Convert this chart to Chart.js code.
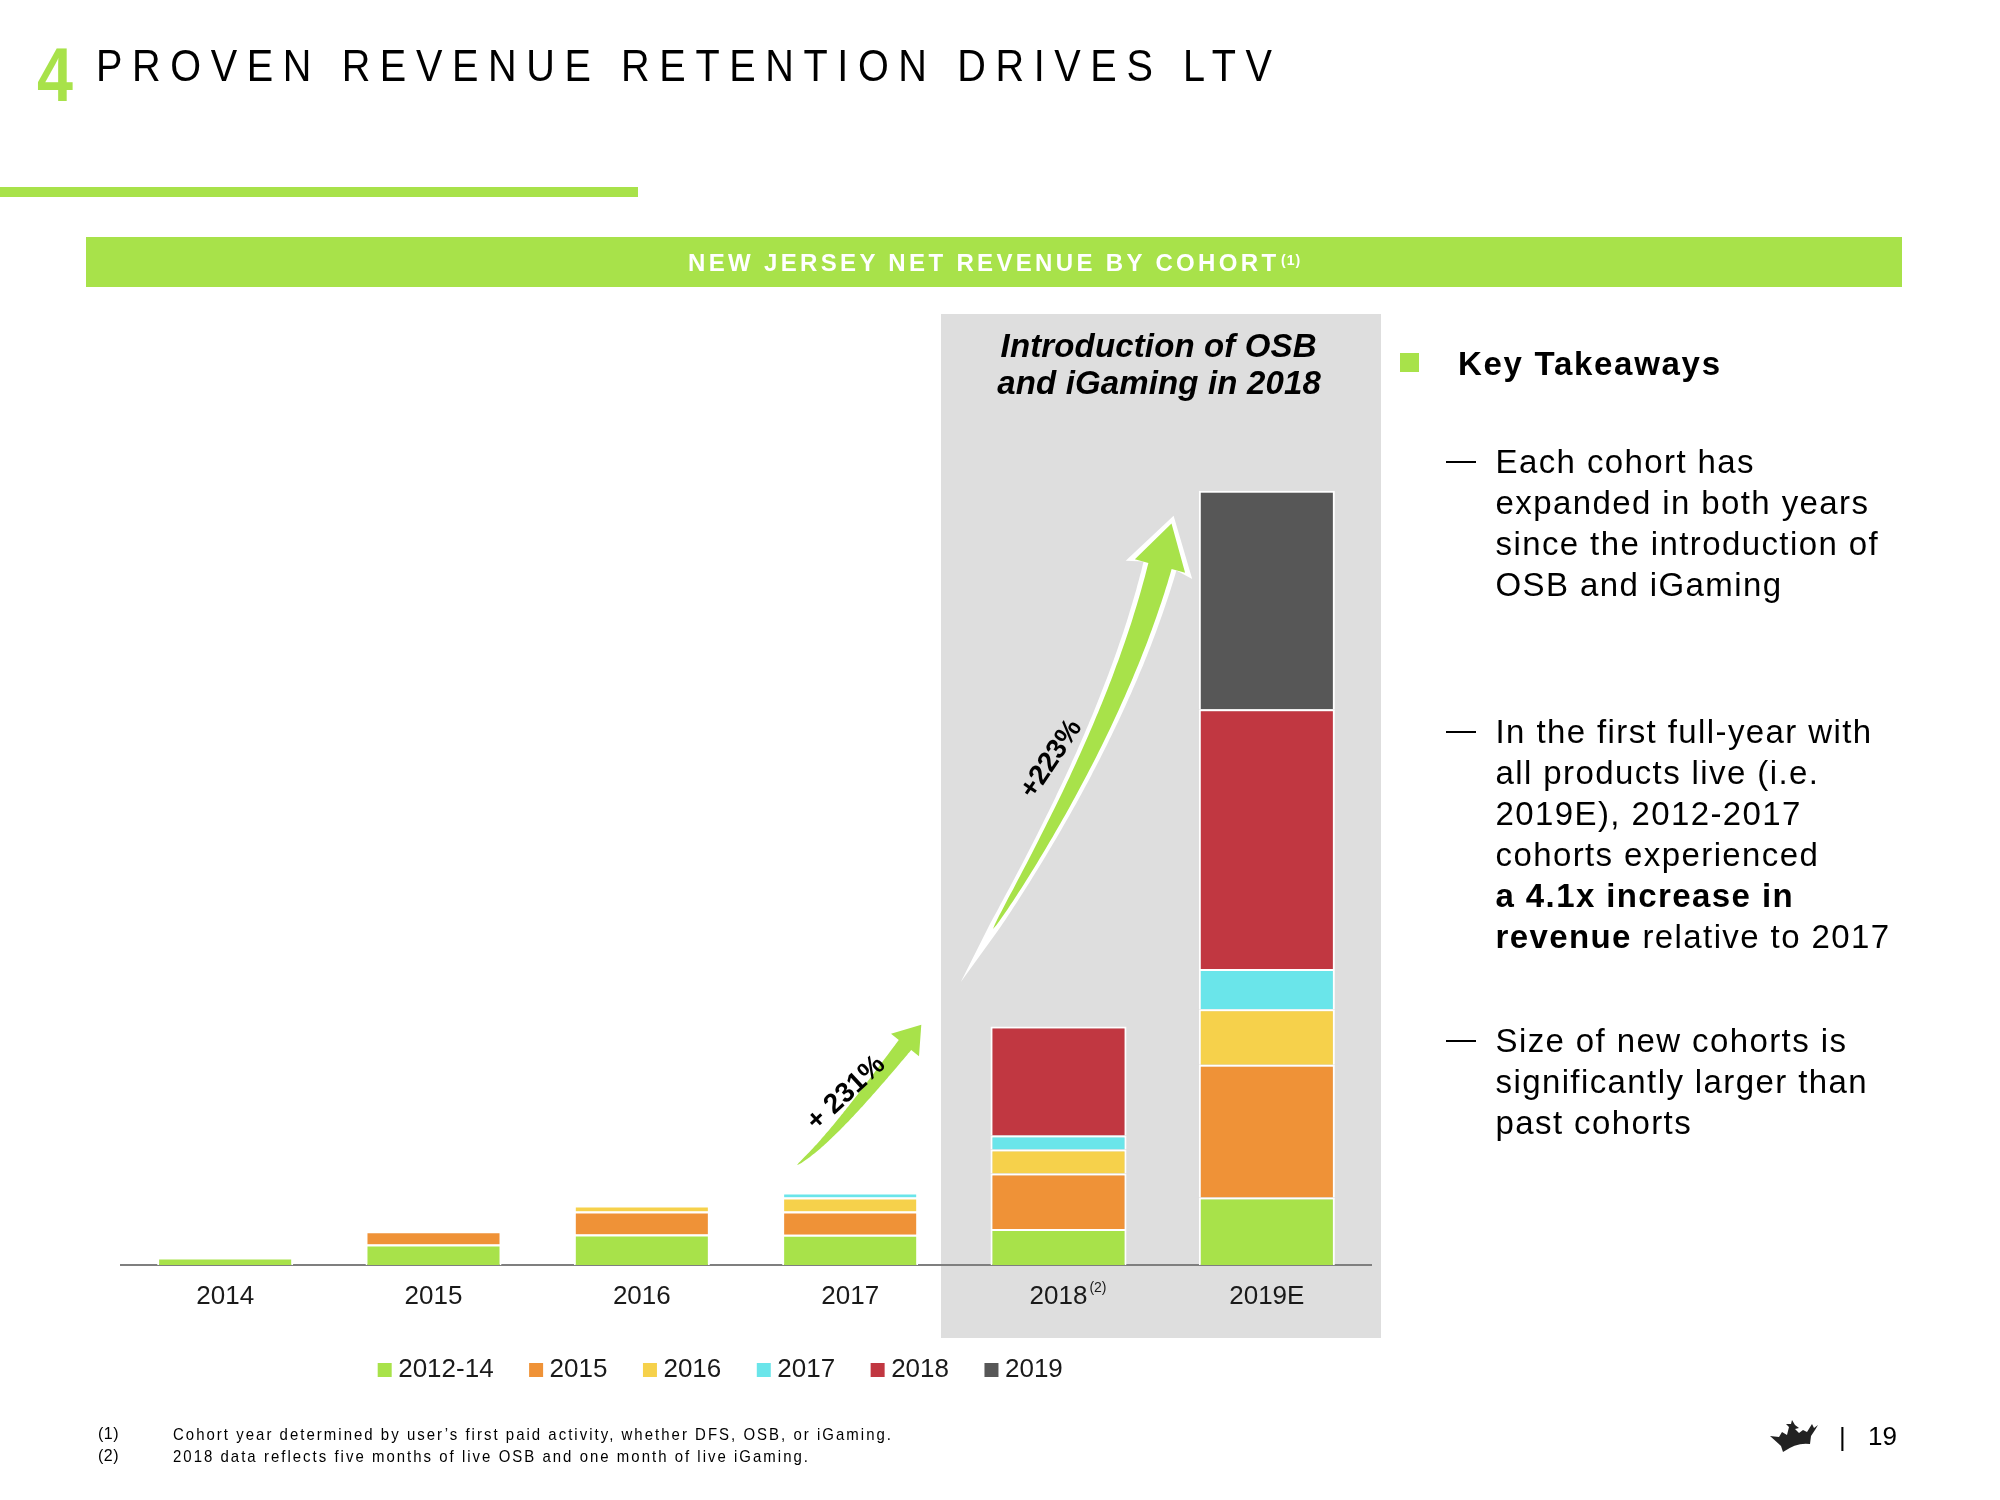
<!DOCTYPE html>
<html><head><meta charset="utf-8">
<script src="https://cdn.jsdelivr.net/npm/chart.js@4.4.1/dist/chart.umd.min.js"></script>
<style>
html,body{margin:0;padding:0;background:#fff;}
body{width:2000px;height:1500px;position:relative;overflow:hidden;font-family:"Liberation Sans",Arial,sans-serif;color:#000;}
.abs{position:absolute;white-space:nowrap;}
</style></head><body>
<div class="abs" style="left:0;top:187px;width:638px;height:10px;background:#a8e24a"></div>
<div class="abs" style="left:86px;top:237px;width:1816px;height:50px;background:#a8e24a"></div>
<div class="abs" style="left:941px;top:314px;width:440px;height:1024px;background:#dedede"></div>
<div class="abs" style="left:1400px;top:353px;width:19px;height:19px;background:#a8e24a"></div>
<canvas id="c" width="1400" height="948" style="position:absolute;left:0;top:445px;width:1400px;height:948px"></canvas>
<svg id="ov" class="abs" style="left:0;top:0" width="2000" height="1500" xmlns="http://www.w3.org/2000/svg"></svg>
<script>
// ---------------- data ----------------
const categories = ['2014', '2015', '2016', '2017', '2018', '2019E'];
const categoryNotes = ['', '', '', '', '(2)', ''];
const seriesNames = ['2012-14', '2015', '2016', '2017', '2018', '2019'];
const cohort2012_14 = [3.8, 10.2, 15.2, 15.1, 18.0, 33.8];
const cohort2015 = [null, 6.7, 11.5, 11.7, 27.8, 66.3];
const cohort2016 = [null, null, 3.0, 7.0, 12.0, 27.8];
const cohort2017 = [null, null, null, 2.5, 7.0, 20.1];
const cohort2018 = [null, null, null, null, 54.5, 129.9];
const cohort2019 = [null, null, null, null, null, 109.2];
const seriesColors = ['#a8e24a', '#ef9237', '#f6d14b', '#6ae5ea', '#c13741', '#575757'];
const growthLabels = ['+ 231%', '+223%'];

const FAM = '"Liberation Sans", Arial, sans-serif';
Chart.defaults.font.family = FAM;

// --------------- text helper ---------------
const mctx = document.createElement('canvas').getContext('2d');
function place(html, o) {
  const el = document.createElement('div');
  el.className = 'abs';
  el.innerHTML = html;
  el.style.fontFamily = FAM;
  el.style.fontSize = o.size + 'px';
  el.style.lineHeight = o.size + 'px';
  el.style.fontWeight = o.bold ? '700' : '400';
  el.style.fontStyle = o.italic ? 'italic' : 'normal';
  el.style.color = o.color || '#000';
  const sx = o.sx || 1;
  let ls = o.ls || 0;
  if (o.w) {
    mctx.font = (o.italic ? 'italic ' : '') + (o.bold ? 'bold ' : '') + o.size + 'px ' + FAM;
    const plain = el.textContent;
    const nat = mctx.measureText(plain).width;
    ls = (o.w / sx - nat) / (plain.length - 1);
  }
  el.style.letterSpacing = ls + 'px';
  document.body.appendChild(el);
  const width = (el.getBoundingClientRect().width - ls) * (o.sx ? 1 : 1);
  let left = o.x;
  if (o.cx !== undefined) left = o.cx - width / 2;
  el.style.left = left + 'px';
  el.style.top = (o.base - 0.8465 * o.size) + 'px';
  if (o.sx) { el.style.transform = 'scaleX(' + o.sx + ')'; el.style.transformOrigin = 'left top'; }
  return el;
}

// header
place('4', {x: 37, base: 101.5, size: 76, bold: true, color: '#a8e24a', sx: 0.85});
place('PROVEN REVENUE RETENTION DRIVES LTV', {x: 96, base: 81.7, size: 44, w: 1176, sx: 0.9});
place('NEW JERSEY NET REVENUE BY COHORT', {x: 688, base: 271, size: 24, bold: true, color: '#fff', w: 589});
place('(1)', {x: 1281, base: 265, size: 14, bold: true, color: '#fff', ls: 1});
place('Introduction of OSB', {cx: 1158.6, base: 357, size: 33, bold: true, italic: true, w: 316});
place('and iGaming in 2018', {cx: 1159, base: 394, size: 33, bold: true, italic: true, w: 323.5});
place('Key Takeaways', {x: 1458, base: 375, size: 33, bold: true, w: 262});

const bullets = [
  {base: 473, lines: ['Each cohort has', 'expanded in both years', 'since the introduction of', 'OSB and iGaming']},
  {base: 743, lines: ['In the first full-year with', 'all products live (i.e.', '2019E), 2012-2017', 'cohorts experienced', '<b>a 4.1x increase in</b>', '<b>revenue</b> relative to 2017']},
  {base: 1052, lines: ['Size of new cohorts is', 'significantly larger than', 'past cohorts']}
];
bullets.forEach(b => {
  place('\u2014', {x: 1446, base: b.base - 3, size: 30});
  b.lines.forEach((ln, i) => place(ln, {x: 1495.5, base: b.base + i * 41, size: 33, ls: 1.4}));
});

// footnotes
place('(1)', {x: 98, base: 1440, size: 16, ls: 0.5});
place('(2)', {x: 98, base: 1462, size: 16, ls: 0.5});
place('Cohort year determined by user\u2019s first paid activity, whether DFS, OSB, or iGaming.', {x: 173, base: 1440, size: 17, w: 718, sx: 0.88});
place('2018 data reflects five months of live OSB and one month of live iGaming.', {x: 173, base: 1462, size: 17, w: 635, sx: 0.88});
place('|', {x: 1839, base: 1446, size: 26});
place('19', {x: 1868, base: 1445, size: 26});

// --------------- chart ---------------
const seriesData = [cohort2012_14, cohort2015, cohort2016, cohort2017, cohort2018, cohort2019];
const notePlugin = {
  id: 'notes',
  afterDraw(chart) {
    const ctx = chart.ctx, xs = chart.scales.x;
    ctx.save();
    ctx.fillStyle = '#1a1a1a';
    categoryNotes.forEach((n, i) => {
      if (!n) return;
      ctx.font = '26px ' + FAM;
      const w = ctx.measureText(categories[i]).width;
      ctx.font = '14px ' + FAM;
      ctx.textBaseline = 'alphabetic';
      ctx.textAlign = 'left';
      ctx.fillText(n, xs.getPixelForValue(i) + w / 2 + 2, xs.bottom - xs.height + 27);
    });
    ctx.restore();
  }
};

new Chart(document.getElementById('c').getContext('2d'), {
  type: 'bar',
  data: {
    labels: categories,
    datasets: seriesData.map((d, i) => ({
      label: seriesNames[i], data: d, backgroundColor: seriesColors[i],
      borderColor: '#ffffff', borderWidth: 2, borderSkipped: 'start',
      categoryPercentage: 1, barPercentage: 0.653
    }))
  },
  options: {
    responsive: false, animation: false, devicePixelRatio: 1,
    layout: {padding: {left: 76, right: 29, top: 20, bottom: 0}},
    plugins: {
      tooltip: {enabled: false},
      legend: {
        position: 'bottom',
        labels: {
          usePointStyle: true, pointStyle: 'rect', boxWidth: 1, boxHeight: 14, padding: 42,
          color: '#1a1a1a', font: {size: 26},
          generateLabels: (chart) => Chart.defaults.plugins.legend.labels.generateLabels(chart)
            .map(it => Object.assign(it, {lineWidth: 0, strokeStyle: 'rgba(0,0,0,0)'}))
        }
      }
    },
    scales: {
      x: {
        stacked: true, z: 1,
        grid: {display: false, drawTicks: false},
        border: {display: true, color: '#7f7f7f', width: 2},
        ticks: {color: '#1a1a1a', padding: 16, font: {size: 26}, maxRotation: 0},
        afterFit(s) { s.height = 50; }
      },
      y: {
        stacked: true, min: 0, max: 400, display: true,
        grid: {display: false, drawTicks: false}, border: {display: false},
        ticks: {display: false},
        afterFit(s) { s.width = 45; }
      }
    }
  },
  plugins: [notePlugin]
});

// --------------- growth arrows (decoration) ---------------
const svg = document.getElementById('ov');
const NS = 'http://www.w3.org/2000/svg';
function bez(P, t) {
  const u = 1 - t;
  return [0, 1].map(k => u*u*u*P[0][k] + 3*u*u*t*P[1][k] + 3*u*t*t*P[2][k] + t*t*t*P[3][k]);
}
function arrowPath(P, wNeck, headW, headL, tailExt, grow, expo) {
  const N = 80; let pts = [];
  for (let i = 0; i <= N; i++) pts.push(bez(P, i / N));
  if (tailExt > 0) {
    const dx = pts[0][0] - pts[1][0], dy = pts[0][1] - pts[1][1], d = Math.hypot(dx, dy);
    pts.unshift([pts[0][0] + dx / d * tailExt, pts[0][1] + dy / d * tailExt]);
  }
  const cum = [0];
  for (let i = 1; i < pts.length; i++) cum.push(cum[i-1] + Math.hypot(pts[i][0]-pts[i-1][0], pts[i][1]-pts[i-1][1]));
  const L = cum[cum.length - 1];
  const left = [], right = [];
  let tx = 0, ty = 0;
  for (let i = 0; i < pts.length; i++) {
    const a = pts[Math.max(0, i-1)], b = pts[Math.min(pts.length-1, i+1)];
    const d = Math.hypot(b[0]-a[0], b[1]-a[1]); tx = (b[0]-a[0]) / d; ty = (b[1]-a[1]) / d;
    const w = (wNeck + 2*grow) * Math.pow(cum[i] / L, expo) / 2;
    left.push([pts[i][0] - ty*w, pts[i][1] + tx*w]);
    right.push([pts[i][0] + ty*w, pts[i][1] - tx*w]);
  }
  const end = pts[pts.length-1];
  const base = [end[0] - tx*grow*0.8, end[1] - ty*grow*0.8];
  const hw = headW / 2 + grow * 1.7, hl = headL + grow * 2.4;
  const h1 = [base[0] - ty*hw, base[1] + tx*hw], h2 = [base[0] + ty*hw, base[1] - tx*hw];
  const tip = [base[0] + tx*hl, base[1] + ty*hl];
  const poly = left.concat([h1, tip, h2], right.reverse());
  return 'M' + poly.map(p => p[0].toFixed(1) + ',' + p[1].toFixed(1)).join(' L') + ' Z';
}
function addPath(d, fill) {
  const p = document.createElementNS(NS, 'path');
  p.setAttribute('d', d); p.setAttribute('fill', fill);
  p.setAttribute('stroke-linejoin', 'round');
  svg.appendChild(p);
}
function addText(t, cx, cy, ang) {
  const e = document.createElementNS(NS, 'text');
  e.setAttribute('x', cx); e.setAttribute('y', cy);
  e.setAttribute('text-anchor', 'middle'); e.setAttribute('dominant-baseline', 'central');
  e.setAttribute('font-family', FAM); e.setAttribute('font-weight', 'bold'); e.setAttribute('font-size', '28');
  e.setAttribute('transform', 'rotate(' + ang + ' ' + cx + ' ' + cy + ')');
  e.textContent = t;
  svg.appendChild(e);
}
const bigP = [[993, 929], [1060.7, 818], [1126.3, 691.6], [1160, 566]];
addPath(arrowPath(bigP, 24, 52, 44, 62, 5, 0.6), '#ffffff');
addPath(arrowPath(bigP, 24, 52, 44, 0, 0, 0.6), '#a8e24a');
const smallP = [[797, 1165], [830, 1141], [879.3, 1077], [905, 1045]];
addPath(arrowPath(smallP, 16, 36, 26, 0, 0, 0.6), '#a8e24a');
addText(growthLabels[0], 845, 1092, -43);
addText(growthLabels[1], 1050, 758, -56);

// crown logo
const crown = document.createElementNS(NS, 'path');
crown.setAttribute('d', 'M1770,1436 L1779,1437 L1782,1432 L1787,1435 L1789,1427 L1786,1424 L1791,1424 L1792,1420 L1795,1425 L1799,1428 L1795,1429 L1799,1433 L1803,1430 L1807,1432 L1812,1424 L1814,1428 L1818,1425 L1815,1430 L1811,1436 L1810,1444 Q1797,1442 1783,1452 L1781,1446 Z');
crown.setAttribute('fill', '#222');
svg.appendChild(crown);
</script>
</body></html>
